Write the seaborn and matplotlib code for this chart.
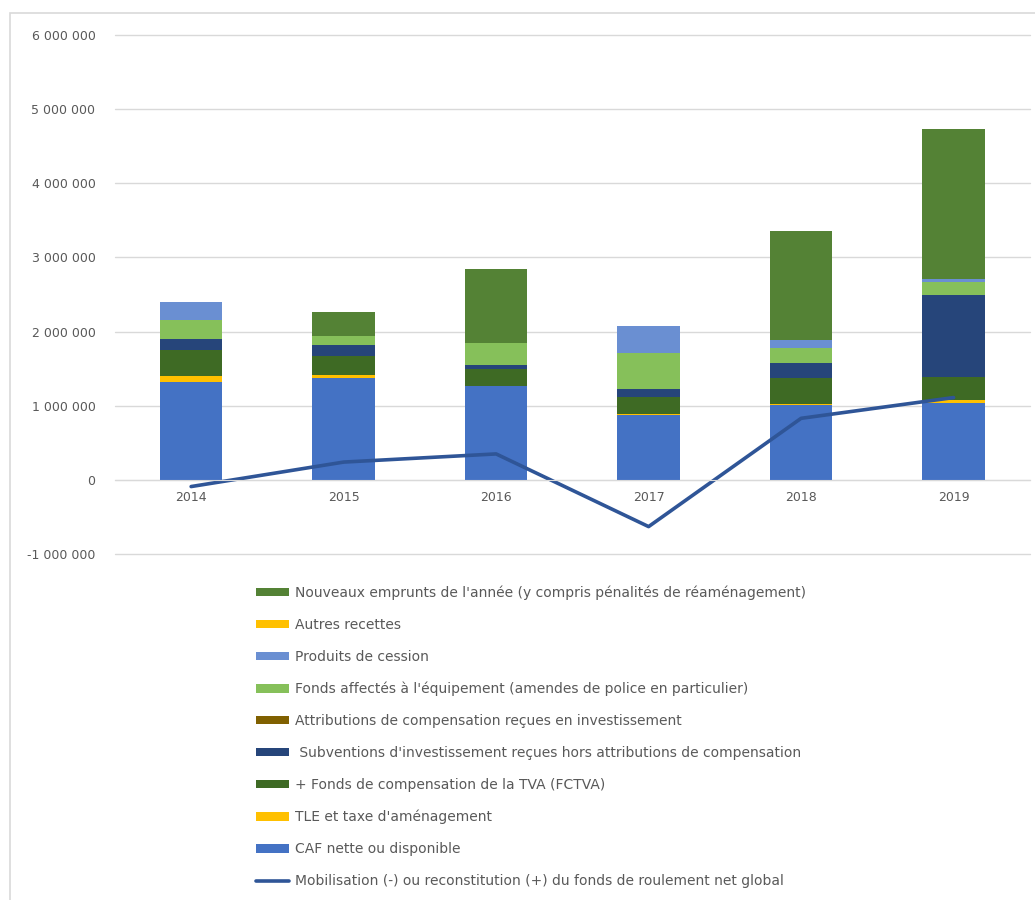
"""Financement de l'investissement 2014-2019 : barres empilees + fonds de roulement."""

import seaborn as sns
import matplotlib.pyplot as plt
import pandas as pd
from matplotlib.patches import Patch, Rectangle
from matplotlib.lines import Line2D
from matplotlib.ticker import FuncFormatter

years = [2014, 2015, 2016, 2017, 2018, 2019]

# ordre de la legende (haut -> bas), le dernier est en bas de la pile
series = [
    "Nouveaux emprunts de l'année (y compris pénalités de réaménagement)",
    "Autres recettes",
    "Produits de cession",
    "Fonds affectés à l'équipement (amendes de police en particulier)",
    "Attributions de compensation reçues en investissement",
    " Subventions d'investissement reçues hors attributions de compensation",
    "+ Fonds de compensation de la TVA (FCTVA)",
    "TLE et taxe d'aménagement",
    "CAF nette ou disponible",
]
line_label = "Mobilisation (-) ou reconstitution (+) du fonds de roulement net global"

emprunts = [0, 330000, 1000000, 0, 1470000, 2020000]
autres = [0, 0, 0, 0, 0, 0]
cession = [240000, 0, 0, 360000, 100000, 45000]
fonds_affectes = [260000, 120000, 300000, 490000, 200000, 180000]
attributions = [0, 0, 0, 0, 0, 0]
subventions = [150000, 150000, 60000, 100000, 200000, 1100000]
fctva = [350000, 255000, 220000, 230000, 360000, 310000]
tle = [75000, 45000, 10000, 20000, 10000, 40000]
caf = [1325000, 1370000, 1260000, 870000, 1010000, 1040000]

fonds_roulement = [-90000, 240000, 350000, -630000, 830000, 1110000]

colors = ["#548235", "#FFC000", "#6A8FD2", "#86C05A", "#806000",
          "#26457A", "#3E6A24", "#FFC000", "#4472C4"]

values = [emprunts, autres, cession, fonds_affectes, attributions,
          subventions, fctva, tle, caf]
rows = []
for name, vals in zip(series, values):
    for yr, v in zip(years, vals):
        rows.append({"annee": yr, "poste": name, "montant": v})
dfrm = pd.DataFrame(rows)

sns.set_style("white")
fig = plt.figure(figsize=(10.35, 9), dpi=100)
ax = fig.add_axes([0.111, 0.3844, 0.884, 0.5768])

sns.histplot(data=dfrm, x="annee", weights="montant", hue="poste",
             hue_order=series, palette=colors, multiple="stack",
             discrete=True, shrink=0.41, alpha=1, linewidth=0,
             legend=False, ax=ax)
sns.lineplot(x=years, y=fonds_roulement, color="#2F5597", linewidth=2.6, ax=ax)

ax.set_xlim(2013.5, 2019.5)
ax.set_ylim(-1000000, 6000000)
ax.set_yticks(range(-1000000, 6000001, 1000000))
ax.yaxis.set_major_formatter(FuncFormatter(lambda v, p: f"{int(v):,}".replace(",", " ")))
ax.set_xticks(years)
ax.grid(axis="y", color="#D9D9D9", linewidth=1)
for gl in ax.get_ygridlines():
    gl.set_clip_on(False)
ax.set_axisbelow(True)
for side in ["top", "right", "left"]:
    ax.spines[side].set_visible(False)
ax.spines["bottom"].set_position(("data", 0))
ax.spines["bottom"].set_color("#D9D9D9")
ax.tick_params(axis="both", length=0, labelsize=9, colors="#595959", pad=8)
ax.tick_params(axis="y", pad=14)
ax.set_xlabel("")
ax.set_ylabel("")

# cadre du graphique
fig.patches.append(Rectangle((10 / 1035, -0.1), 1.2, 1.1 - 13 / 900, transform=fig.transFigure,
                             fill=False, edgecolor="#D9D9D9", linewidth=1.2))

handles = [Patch(facecolor=c, edgecolor="none") for c in colors]
handles.append(Line2D([0], [0], color="#2F5597", linewidth=2.6))
fig.legend(handles, series + [line_label], loc="upper left",
           bbox_to_anchor=(250 / 1035, 1 - 580 / 900), frameon=False,
           fontsize=10, labelcolor="#595959", handlelength=2.4, handleheight=0.55,
           handletextpad=0.45, labelspacing=1.29, borderaxespad=0)

fig.savefig("out.png", dpi=100)
